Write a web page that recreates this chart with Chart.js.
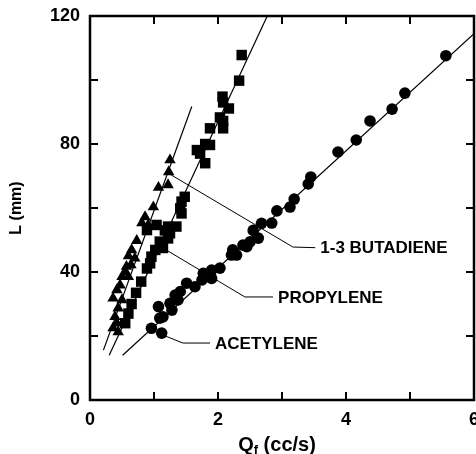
<!DOCTYPE html>
<html><head><meta charset="utf-8">
<script src="https://cdn.jsdelivr.net/npm/chart.js@4"></script>
<style>html,body{margin:0;padding:0;background:#fff}#wrap{width:476px;height:454px;position:relative}</style>
</head><body><div id="wrap"><canvas id="c" width="476" height="454"></canvas></div>
<script>
// ---- data ----
const acetyleneX = [0.96,1.12,1.09,1.14,1.28,1.07,1.25,1.375,1.33,1.41,1.51,1.64,1.75,1.9,1.77,1.84,1.9,2.03,2.21,2.23,2.29,2.39,2.45,2.5,2.63,2.55,2.68,2.84,2.92,3.125,3.19,3.41,3.45,3.875,4.16,4.375,4.72,4.92,5.56];
const acetyleneY = [22.4,20.9,25.6,26.0,28.1,29.2,30.2,31.25,32.8,33.9,36.5,35.4,37.5,38.0,39.6,39.0,40.6,41.2,45.3,46.9,45.3,48.4,47.9,49.4,50.6,53.0,55.2,55.3,59.1,60.3,62.8,67.5,69.7,77.5,81.25,87.2,90.9,95.9,107.6];
const propyleneX = [2.37,2.33,2.07,2.08,2.17,2.03,2.08,1.875,2.08,1.8,1.875,1.67,1.72,1.8,1.48,1.43,1.41,1.43,1.35,1.22,1.04,0.89,1.17,1.25,1.22,1.09,1.14,1.02,0.96,0.94,0.89,0.8,0.72,0.65,0.6,0.55];
const propyleneY = [107.8,99.8,94.8,93.0,91.1,88.3,87.2,84.9,84.9,80.0,79.7,78.1,77.0,74.0,63.5,62.0,59.9,58.3,54.2,54.2,54.7,53.1,53.0,52.1,50.5,49.5,47.5,46.9,44.8,42.7,41.1,37.0,33.5,30.0,27.0,24.0];
const butadieneX = [1.25,1.23,1.22,1.07,0.99,0.86,0.81,0.91,0.73,0.65,0.7,0.6,0.57,0.64,0.55,0.5,0.6,0.47,0.42,0.36,0.5,0.44,0.39,0.42,0.36,0.44];
const butadieneY = [75.0,71.3,67.2,66.4,60.3,57.2,55.3,54.7,49.8,46.9,44.3,45.0,41.7,42.2,40.1,38.5,38.5,35.9,34.4,31.8,31.3,28.7,26.0,24.0,22.5,21.3];
// fitted lines (end points)
const acetyleneFitX = [0.51, 6.0];
const acetyleneFitY = [14.0, 114.5];
const propyleneFitX = [0.30, 2.77];
const propyleneFitY = [14.0, 120.0];
const butadieneFitX = [0.21, 1.59];
const butadieneFitY = [15.6, 91.7];
// axis ticks
const xTickLabels = [0, 2, 4, 6];
const yTickLabels = [0, 40, 80, 120];
// labels with leader lines: [point, elbow, end] in data units
const labelTexts = ['1-3 BUTADIENE', 'PROPYLENE', 'ACETYLENE'];
const labelLeaders = [
  [[1.22, 70.9], [3.17, 47.8], [3.52, 47.6]],
  [[1.14, 47.5], [2.42, 32.2], [2.86, 32.2]],
  [[1.14, 20.3], [1.45, 17.8], [1.875, 17.8]]
];

const pts = (xs, ys) => xs.map((x, i) => ({x, y: ys[i]}));
const FONT = "'Liberation Sans', Arial, Helvetica, sans-serif";

const decor = {
  id: 'decor',
  afterDraw(chart) {
    const {ctx, chartArea: a, scales: {x, y}} = chart;
    ctx.save();
    ctx.strokeStyle = '#000';
    ctx.lineWidth = 2.5;
    ctx.strokeRect(a.left, a.top, a.right - a.left, a.bottom - a.top);
    ctx.lineWidth = 2;
    const tl = 8;
    x.ticks.forEach(t => {
      const px = x.getPixelForValue(t.value);
      ctx.beginPath();
      ctx.moveTo(px, a.bottom); ctx.lineTo(px, a.bottom - tl);
      ctx.moveTo(px, a.top); ctx.lineTo(px, a.top + tl);
      ctx.stroke();
    });
    y.ticks.forEach(t => {
      const py = y.getPixelForValue(t.value);
      ctx.beginPath();
      ctx.moveTo(a.left, py); ctx.lineTo(a.left + tl, py);
      ctx.moveTo(a.right, py); ctx.lineTo(a.right - tl, py);
      ctx.stroke();
    });
    // leader lines and labels
    ctx.lineWidth = 1;
    ctx.font = 'bold 17px ' + FONT;
    ctx.fillStyle = '#000';
    ctx.textBaseline = 'middle';
    ctx.textAlign = 'left';
    labelLeaders.forEach((seg, i) => {
      ctx.beginPath();
      seg.forEach(([vx, vy], j) => {
        const px = x.getPixelForValue(vx), py = y.getPixelForValue(vy);
        if (j === 0) ctx.moveTo(px, py); else ctx.lineTo(px, py);
      });
      ctx.stroke();
      const end = seg[seg.length - 1];
      ctx.fillText(labelTexts[i], x.getPixelForValue(end[0]) + 5, y.getPixelForValue(end[1]) + 1);
    });
    // x axis title with subscript
    const cx = (a.left + a.right) / 2 - 5;
    const base = 451;
    ctx.textBaseline = 'alphabetic';
    ctx.font = 'bold 20px ' + FONT;
    const q = 'Q', rest = ' (cc/s)';
    const wq = ctx.measureText(q).width;
    const wr = ctx.measureText(rest).width;
    ctx.font = 'bold 13px ' + FONT;
    const wf = ctx.measureText('f').width;
    let sx = cx - (wq + wf + wr) / 2;
    ctx.font = 'bold 20px ' + FONT;
    ctx.fillText(q, sx, base);
    ctx.font = 'bold 13px ' + FONT;
    ctx.fillText('f', sx + wq, base + 3);
    ctx.font = 'bold 20px ' + FONT;
    ctx.fillText(rest, sx + wq + wf, base);
    ctx.restore();
  }
};

const lineDs = (xs, ys) => ({
  type: 'line', data: pts(xs, ys), showLine: true, pointRadius: 0,
  borderColor: '#000', borderWidth: 1.2, fill: false
});

new Chart(document.getElementById('c'), {
  type: 'scatter',
  data: {
    datasets: [
      lineDs(acetyleneFitX, acetyleneFitY),
      lineDs(propyleneFitX, propyleneFitY),
      lineDs(butadieneFitX, butadieneFitY),
      {label: 'ACETYLENE', data: pts(acetyleneX, acetyleneY), pointStyle: 'circle', pointRadius: 5.8,
       backgroundColor: '#000', borderColor: '#000', borderWidth: 0},
      {label: 'PROPYLENE', data: pts(propyleneX, propyleneY), pointStyle: 'rect', pointRadius: 7.4,
       backgroundColor: '#000', borderColor: '#000', borderWidth: 0},
      {label: '1-3 BUTADIENE', data: pts(butadieneX, butadieneY), pointStyle: 'triangle', pointRadius: 6.6,
       backgroundColor: '#000', borderColor: '#000', borderWidth: 0}
    ]
  },
  options: {
    responsive: false,
    animation: false,
    layout: {autoPadding: false, padding: {top: 16, right: 2, left: 0, bottom: 0}},
    plugins: {legend: {display: false}, tooltip: {enabled: false}},
    scales: {
      x: {
        type: 'linear', min: 0, max: 6,
        grid: {display: false, drawTicks: false},
        border: {display: false},
        ticks: {
          stepSize: 1, padding: 9, color: '#000',
          font: {family: FONT, size: 18, weight: 'bold'},
          autoSkip: false, maxRotation: 0,
          callback: v => xTickLabels.includes(v) ? String(v) : ''
        },
        afterFit(s) { s.height = 54; s.paddingLeft = 0; s.paddingRight = 0; }
      },
      y: {
        type: 'linear', min: 0, max: 120,
        grid: {display: false, drawTicks: false},
        border: {display: false},
        title: {display: true, text: 'L (mm)', color: '#000', padding: {top: 7, bottom: 0},
                font: {family: FONT, size: 16, weight: 'bold'}},
        ticks: {
          stepSize: 20, padding: 10, color: '#000',
          font: {family: FONT, size: 18, weight: 'bold'},
          autoSkip: false,
          callback: v => yTickLabels.includes(v) ? String(v) : ''
        },
        afterFit(s) { s.width = 90; s.paddingTop = 0; s.paddingBottom = 0; }
      }
    }
  },
  plugins: [decor]
});
</script>
</body></html>
